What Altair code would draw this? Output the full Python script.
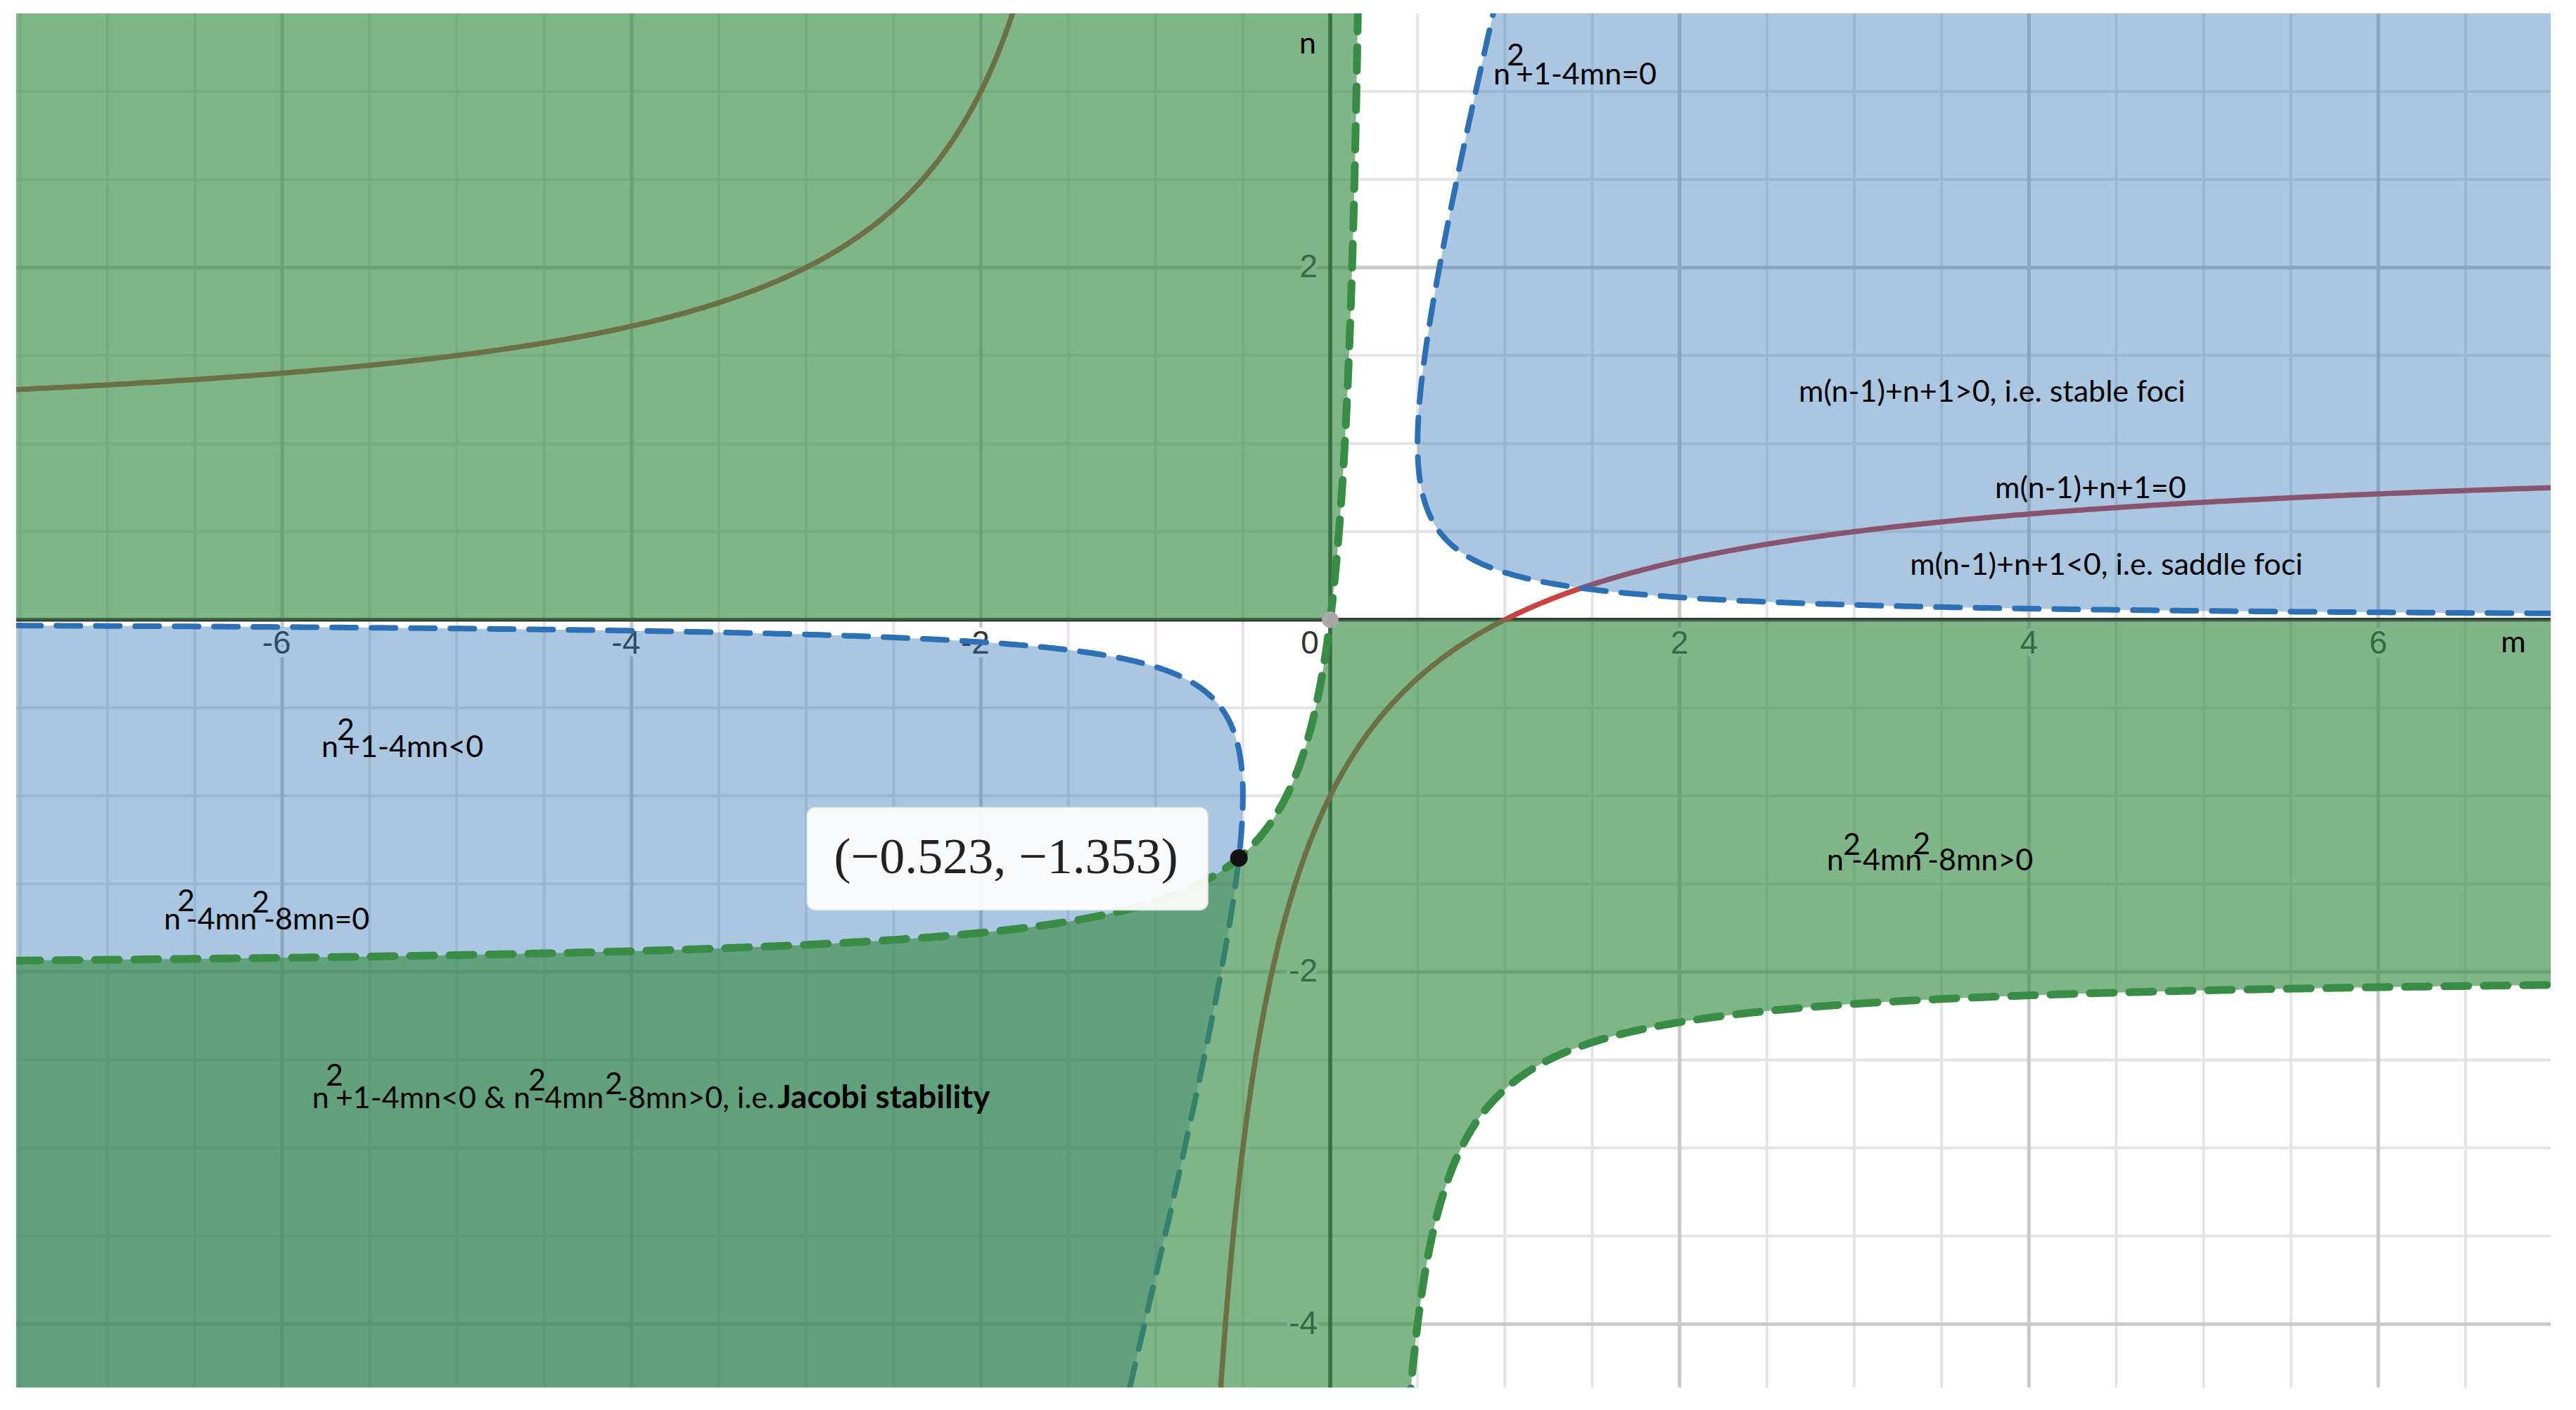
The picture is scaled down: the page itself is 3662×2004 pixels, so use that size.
import altair as alt
import numpy as np
import pandas as pd

# ---- view window (m horizontally, n vertically) ----
XMIN, XMAX = -7.523, 6.987
YMIN, YMAX = -4.360, 3.443

# ---- grid / ticks ----
minor_x = [v for v in np.arange(-7.5, 7.0, 0.5) if v % 2 != 0]
major_x = [-6, -4, -2, 2, 4, 6]
minor_y = [v for v in np.arange(-4.0, 3.5, 0.5) if v % 2 != 0]
major_y = [-4, -2, 2]
x_tick_vals = [-6, -4, -2, 2, 4, 6]
x_tick_labels = ["-6", "-4", "-2", "2", "4", "6"]
y_tick_vals = [-4, -2, 2]
y_tick_labels = ["-4", "-2", "2"]

# ---- marked intersection point ----
pt_m = [-0.523]
pt_n = [-1.353]
pt_label = ["(\u22120.523, \u22121.353)"]

# ---- annotation texts (left edge, baseline) ----
ann_text = ["n", "2", "+1-4mn=0",
            "m(n-1)+n+1>0, i.e. stable foci", "m(n-1)+n+1=0", "m(n-1)+n+1<0, i.e. saddle foci",
            "m", "n",
            "n", "2", "+1-4mn<0",
            "n", "2", "-4mn", "2", "-8mn=0",
            "n", "2", "-4mn", "2", "-8mn>0",
            "n", "2", "+1-4mn<0 &", "n", "2", "-4mn", "2", "-8mn>0, i.e."]
ann_m = [0.934, 1.011, 1.063,
         2.682, 3.806, 3.319,
         6.702, -0.177,
         -5.775, -5.687, -5.654,
         -6.677, -6.601, -6.549, -6.174, -6.105,
         2.843, 2.936, 2.984, 3.335, 3.419,
         -5.829, -5.751, -5.695, -4.676, -4.591, -4.563, -4.152, -4.084]
ann_n = [3.039, 3.146, 3.039,
         1.237, 0.690, 0.255,
         -0.185, 3.215,
         -0.780, -0.684, -0.780,
         -1.759, -1.655, -1.759, -1.663, -1.759,
         -1.424, -1.336, -1.424, -1.332, -1.424,
         -2.774, -2.646, -2.774, -2.774, -2.674, -2.774, -2.694, -2.774]
bold_text = ["Jacobi stability"]
bold_m = [-3.165]
bold_n = [-2.774]

# ---- the plotted relations ----
def g(n):  # n^2 + 1 - 4mn = 0  ->  m = (n^2+1)/(4n)
    return (n ** 2 + 1) / (4 * n)

def f(m):  # n^2 - 4mn^2 - 8mn = 0 (n != 0)  ->  n = 8m/(1-4m)
    return 8 * m / (1 - 4 * m)

def h(m):  # m(n-1) + n + 1 = 0  ->  n = (m-1)/(m+1)
    return (m - 1) / (m + 1)

BLUE = "#2d70b3"
GREEN = "#388c46"
RED = "#c74440"

xs = alt.Scale(domain=[XMIN, XMAX], nice=False, zero=False)
ys = alt.Scale(domain=[YMIN, YMAX], nice=False, zero=False)


def X(field):
    return alt.X(f"{field}:Q", scale=xs, axis=None, stack=False)


def Y(field):
    return alt.Y(f"{field}:Q", scale=ys, axis=None, stack=False)


layers = []

# grid
layers.append(alt.Chart(pd.DataFrame({"v": minor_x})).mark_rule(color="#e4e4e4", strokeWidth=4).encode(x=X("v")))
layers.append(alt.Chart(pd.DataFrame({"v": minor_y})).mark_rule(color="#e4e4e4", strokeWidth=4).encode(y=Y("v")))
layers.append(alt.Chart(pd.DataFrame({"v": major_x})).mark_rule(color="#c8c8c8", strokeWidth=5).encode(x=X("v")))
layers.append(alt.Chart(pd.DataFrame({"v": major_y})).mark_rule(color="#c8c8c8", strokeWidth=5).encode(y=Y("v")))
# axes
layers.append(alt.Chart(pd.DataFrame({"v": [0]})).mark_rule(color="#3a3a3a", strokeWidth=5.5).encode(x=X("v")))
layers.append(alt.Chart(pd.DataFrame({"v": [0]})).mark_rule(color="#3a3a3a", strokeWidth=5.5).encode(y=Y("v")))

# tick labels (with white halo)
xt = pd.DataFrame({"m": x_tick_vals, "n": [0] * len(x_tick_vals), "t": x_tick_labels})
xt_neg = xt[xt["m"] < 0]
xt_pos = xt[xt["m"] > 0]
yt = pd.DataFrame({"m": [0] * len(y_tick_vals), "n": y_tick_vals, "t": y_tick_labels})
zt = pd.DataFrame({"m": [0], "n": [0], "t": ["0"]})
tick_font = dict(font="Liberation Sans", fontSize=46)
for halo in (True, False):
    sty = dict(color="white", stroke="white", strokeWidth=10, strokeJoin="round") if halo else dict(color="#333333")
    layers.append(alt.Chart(xt_neg).mark_text(align="center", baseline="middle", dx=-8, dy=34, **tick_font, **sty)
                  .encode(x=X("m"), y=Y("n"), text="t:N"))
    layers.append(alt.Chart(xt_pos).mark_text(align="center", baseline="middle", dy=34, **tick_font, **sty)
                  .encode(x=X("m"), y=Y("n"), text="t:N"))
    layers.append(alt.Chart(yt).mark_text(align="right", baseline="middle", dx=-18, **tick_font, **sty)
                  .encode(x=X("m"), y=Y("n"), text="t:N"))
    layers.append(alt.Chart(zt).mark_text(align="center", baseline="middle", dx=-29, dy=34, **tick_font, **sty)
                  .encode(x=X("m"), y=Y("n"), text="t:N"))

# red curve m(n-1)+n+1=0
m_l = -1 - np.geomspace(-1 - XMIN, 0.80, 400)
m_r = -1 + np.geomspace(0.365, XMAX + 1, 700)
red = pd.concat([
    pd.DataFrame({"m": m_l, "n": h(m_l), "i": np.arange(len(m_l)), "b": "L"}),
    pd.DataFrame({"m": m_r, "n": h(m_r), "i": np.arange(len(m_r)), "b": "R"}),
])
layers.append(alt.Chart(red).mark_line(color=RED, strokeWidth=7.5, clip=True)
              .encode(x=X("m"), y=Y("n"), order="i:Q", detail="b:N"))

# blue region n^2+1-4mn<0
n_up = np.concatenate([np.geomspace(0.03, 1, 400), np.linspace(1, YMAX, 300)[1:]])
blue_up = pd.DataFrame({"n": n_up, "x1": np.minimum(g(n_up), XMAX), "x2": XMAX})
n_lo = -n_up[::-1]
n_lo = np.concatenate([[YMIN], n_lo[n_lo > YMIN]])
blue_lo = pd.DataFrame({"n": n_lo, "x1": XMIN, "x2": np.maximum(g(n_lo), XMIN)})
for d in (blue_up, blue_lo):
    layers.append(alt.Chart(d).mark_area(orient="horizontal", color=BLUE, opacity=0.4, clip=True)
                  .encode(y=Y("n"), x=X("x1"), x2="x2:Q"))
bl = pd.concat([
    pd.DataFrame({"m": g(n_up), "n": n_up, "i": np.arange(len(n_up)), "b": "U"}),
    pd.DataFrame({"m": g(n_lo), "n": n_lo, "i": np.arange(len(n_lo)), "b": "D"}),
])
layers.append(alt.Chart(bl).mark_line(color=BLUE, strokeWidth=8, strokeDash=[34, 22], strokeCap="round", clip=True)
              .encode(x=X("m"), y=Y("n"), order="i:Q", detail="b:N"))

# green region n^2-4mn^2-8mn>0
m_gu = np.concatenate([np.linspace(XMIN, 0, 300), np.linspace(0, 0.1586, 500)[1:]])
green_up = pd.DataFrame({"m": m_gu, "lo": np.minimum(np.maximum(0, f(m_gu)), YMAX), "hi": YMAX})
m_gl = np.concatenate([np.linspace(XMIN, 0, 400), np.linspace(0, 0.2499, 60)[1:],
                       np.linspace(0.2501, 1.5, 800), np.linspace(1.5, XMAX, 300)[1:]])
fm = f(m_gl)
green_lo = pd.DataFrame({
    "m": m_gl,
    "lo": np.where(m_gl < 0.25, YMIN, np.maximum(YMIN, fm)),
    "hi": np.where(m_gl < 0.25, np.minimum(0, fm), 0.0),
})
for d in (green_up, green_lo):
    layers.append(alt.Chart(d).mark_area(orient="vertical", color=GREEN, opacity=0.64, clip=True)
                  .encode(x=X("m"), y=Y("lo"), y2="hi:Q"))
m_a = 0.25 - np.geomspace(0.25 - XMIN, 0.25 - 0.1586, 900)
m_b = 0.25 + np.geomspace(0.2, XMAX - 0.25, 900)
gl = pd.concat([
    pd.DataFrame({"m": m_a, "n": f(m_a), "i": np.arange(len(m_a)), "b": "A"}),
    pd.DataFrame({"m": m_b, "n": f(m_b), "i": np.arange(len(m_b)), "b": "B"}),
])
layers.append(alt.Chart(gl).mark_line(color=GREEN, strokeWidth=11, strokeDash=[34, 22], strokeCap="round", clip=True)
              .encode(x=X("m"), y=Y("n"), order="i:Q", detail="b:N"))

# points
layers.append(alt.Chart(pd.DataFrame({"m": [0], "n": [0]})).mark_circle(color="#a8a8a8", opacity=1, size=560)
              .encode(x=X("m"), y=Y("n")))
pt = pd.DataFrame({"m": pt_m, "n": pt_n, "t": pt_label})
layers.append(alt.Chart(pt).mark_circle(color="#111111", opacity=1, size=620).encode(x=X("m"), y=Y("n")))
layers.append(alt.Chart(pt).mark_rect(xOffset=-614, x2Offset=-44, yOffset=-72, y2Offset=74, cornerRadius=12,
                                      color="white", opacity=0.93, stroke="#e2e2e2", strokeWidth=1.5)
              .encode(x=X("m"), x2="m:Q", y=Y("n"), y2="n:Q"))
layers.append(alt.Chart(pt).mark_text(dx=-331, align="center", baseline="middle", font="Liberation Serif",
                                      fontSize=72, color="#222222")
              .encode(x=X("m"), y=Y("n"), text="t:N"))

# annotation texts
ann = pd.DataFrame({"m": ann_m, "n": ann_n, "t": ann_text})
layers.append(alt.Chart(ann).mark_text(align="left", baseline="alphabetic", font="Lato", fontSize=43, color="black")
              .encode(x=X("m"), y=Y("n"), text="t:N"))
bann = pd.DataFrame({"m": bold_m, "n": bold_n, "t": bold_text})
layers.append(alt.Chart(bann).mark_text(align="left", baseline="alphabetic", font="Lato", fontSize=46,
                                        fontWeight="bold", color="black")
              .encode(x=X("m"), y=Y("n"), text="t:N"))

chart = alt.layer(*layers).properties(
    width=3603, height=1953,
    padding={"left": 15, "top": 11, "right": 0, "bottom": 0},
    autosize="none", background="white",
).configure_view(strokeWidth=0)

chart.save("out.html", embed_options={"renderer": "svg", "actions": False})
